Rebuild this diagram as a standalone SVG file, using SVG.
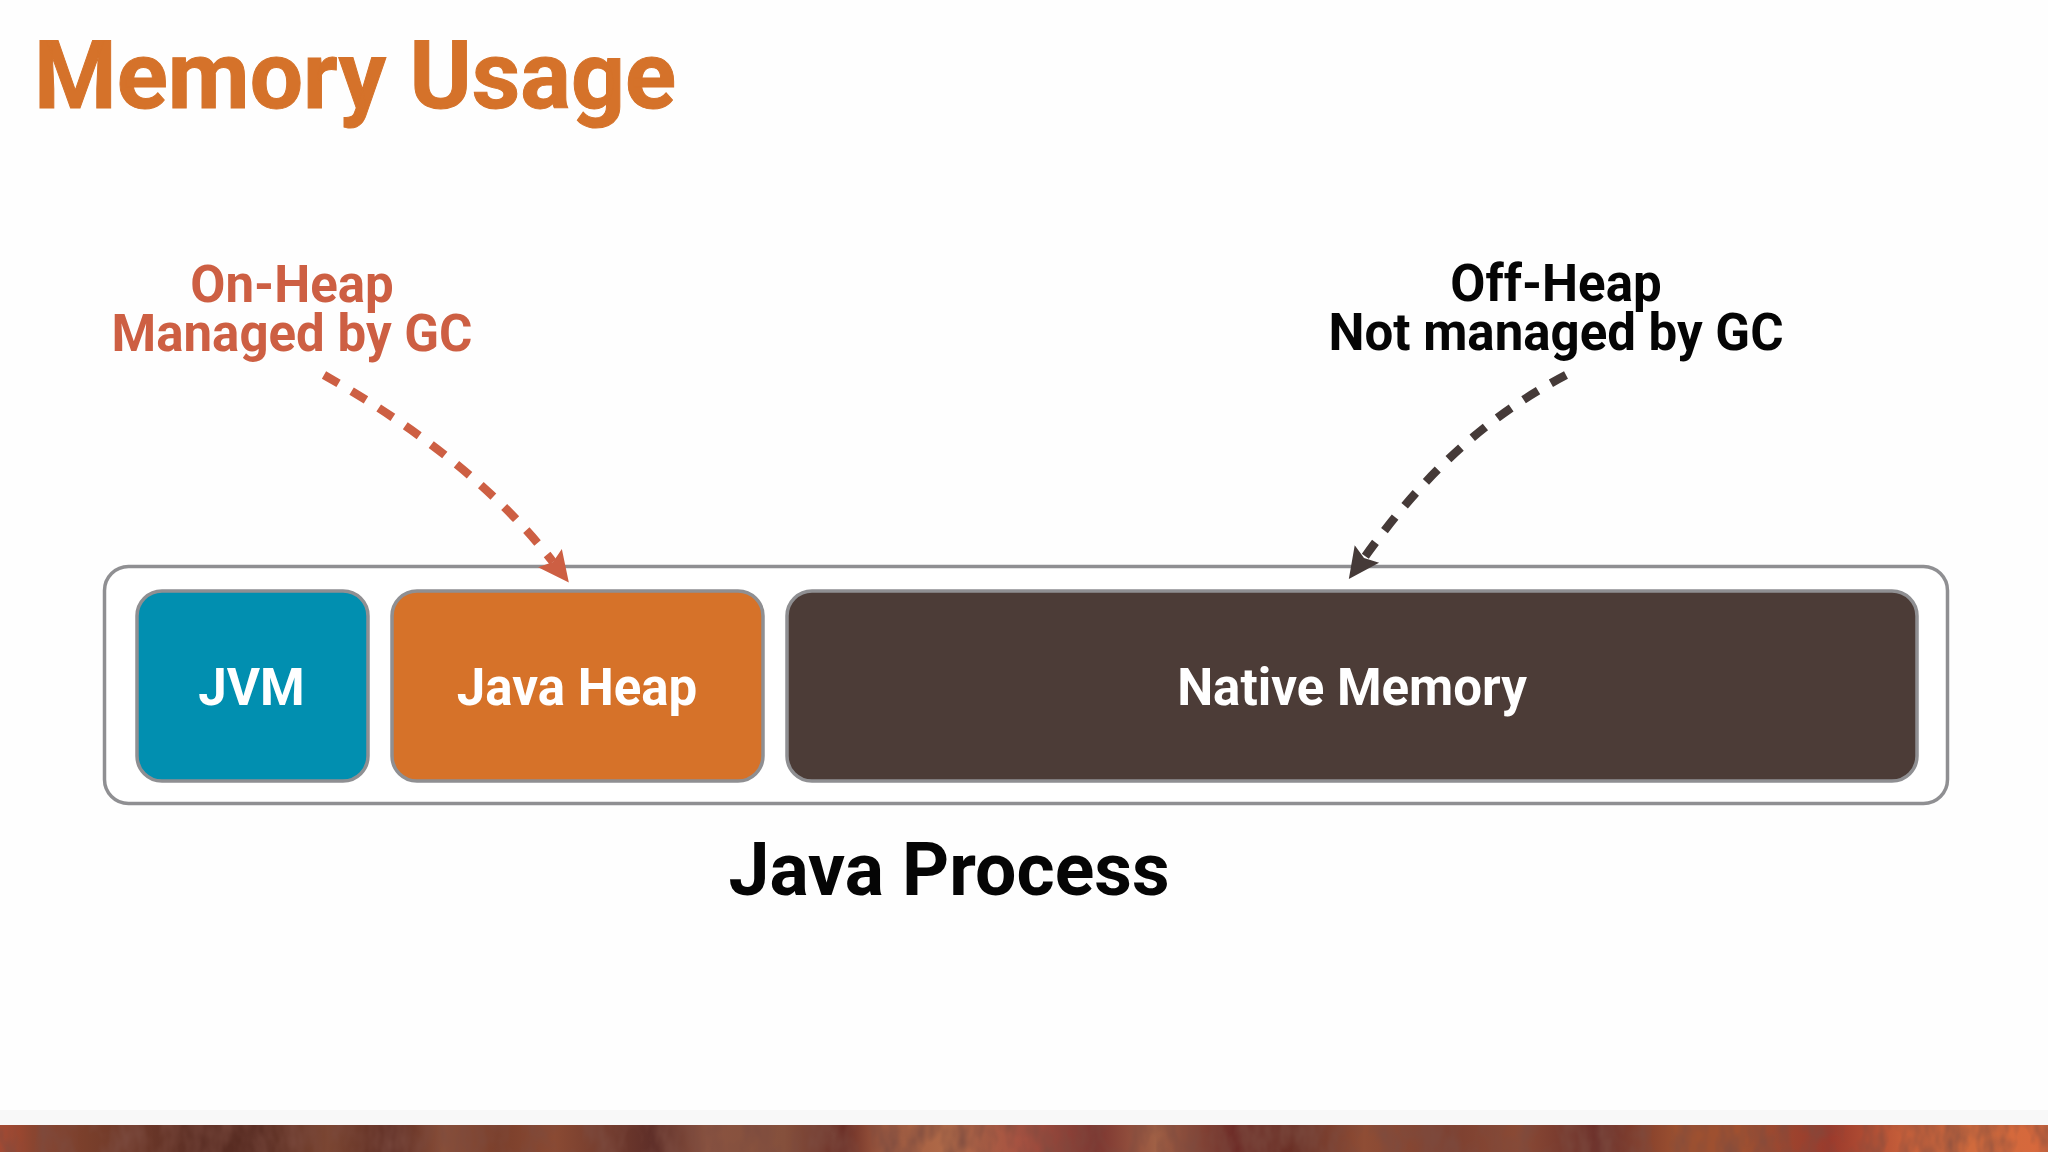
<svg xmlns="http://www.w3.org/2000/svg" width="2048" height="1152" viewBox="0 0 2048 1152">
<style>
text{font-family:Roboto,"Liberation Sans",sans-serif;font-weight:700;text-anchor:middle}
.box{stroke:#8f8f92;stroke-width:3.5}
.lbl{font-size:51px}
.in{font-size:51px;fill:#fff}
.dash{fill:none;stroke-width:8.5;stroke-dasharray:17 15}
</style>
<defs>
<linearGradient id="wood" x1="0" x2="1" y1="0" y2="0" gradientUnits="objectBoundingBox">
<stop offset="0" stop-color="#b0492f"/><stop offset=".016" stop-color="#8a4530"/><stop offset=".042" stop-color="#7a3f2b"/><stop offset=".096" stop-color="#5c2f25"/><stop offset=".127" stop-color="#55291f"/><stop offset=".16" stop-color="#7b4530"/><stop offset=".191" stop-color="#5c2b22"/><stop offset=".217" stop-color="#8a4f38"/><stop offset=".243" stop-color="#7b3f2b"/><stop offset=".271" stop-color="#8a4a33"/><stop offset=".319" stop-color="#5e2e28"/><stop offset=".345" stop-color="#8a5340"/><stop offset=".383" stop-color="#85503c"/><stop offset=".412" stop-color="#6b2e26"/><stop offset=".431" stop-color="#a05a3f"/><stop offset=".463" stop-color="#b06a48"/><stop offset=".5" stop-color="#a55040"/><stop offset=".535" stop-color="#7c3530"/><stop offset=".564" stop-color="#a06045"/><stop offset=".602" stop-color="#6e2d28"/><stop offset=".634" stop-color="#6a3025"/><stop offset=".666" stop-color="#8f4d35"/><stop offset=".708" stop-color="#7d4030"/><stop offset=".742" stop-color="#8a4a35"/><stop offset=".781" stop-color="#6a2d28"/><stop offset=".819" stop-color="#9c5030"/><stop offset=".851" stop-color="#a05030"/><stop offset=".893" stop-color="#9a3a2c"/><stop offset=".931" stop-color="#c8603a"/><stop offset=".962" stop-color="#d06a3c"/><stop offset="1" stop-color="#d8683c"/>
</linearGradient>
<filter id="grain" x="0" y="0" width="1" height="1">
<feTurbulence type="fractalNoise" baseFrequency="0.05 0.025" numOctaves="3" seed="7"/>
<feColorMatrix type="matrix" values="0 0 0 0 0.2  0 0 0 0 0.07  0 0 0 0 0.05  1.6 0 0 0 -0.55"/>
</filter>
<marker id="headRed" markerUnits="userSpaceOnUse" markerWidth="40" markerHeight="40" refX="5" refY="20" orient="auto"><path d="M0,5 L31,20 L0,35 L5,20 Z" fill="#cd5f43"/></marker>
<marker id="headDark" markerUnits="userSpaceOnUse" markerWidth="40" markerHeight="40" refX="5" refY="20" orient="auto"><path d="M0,5 L31,20 L0,35 L5,20 Z" fill="#453a38"/></marker>
</defs>
<rect id="background" width="2048" height="1152" fill="#fefefe"/>
<rect id="footer-band" y="1110" width="2048" height="15" fill="#f8f8f8"/>
<rect id="footer-strip" y="1125" width="2048" height="27" fill="url(#wood)"/>
<rect id="footer-grain" y="1125" width="2048" height="27" filter="url(#grain)"/>
<text id="title" x="355" y="108" font-size="94.500" fill="#d5722a" stroke="#d5722a" stroke-width="1">Memory Usage</text>
<g id="java-process"><rect class="box" x="104.500" y="566.500" width="1843" height="237" rx="24" fill="#fff"/><text x="949" y="895" font-size="73.300" fill="#050505">Java Process</text></g>
<g id="jvm"><rect class="box" x="137" y="591" width="231" height="190" rx="25" fill="#018fb0"/><text class="in" x="251.500" y="705">JVM</text></g>
<g id="java-heap"><rect class="box" x="392" y="591" width="371" height="190" rx="25" fill="#d67229"/><text class="in" x="577" y="705">Java Heap</text></g>
<g id="native-memory"><rect class="box" x="787" y="591" width="1130" height="190" rx="25" fill="#4c3c37"/><text class="in" x="1352" y="705">Native Memory</text></g>
<g id="on-heap"><text class="lbl" y="302" fill="#cd5f43"><tspan x="292">On-Heap</tspan><tspan x="292" y="351">Managed by GC</tspan></text></g>
<g id="off-heap"><text class="lbl" y="301" fill="#050505"><tspan x="1556">Off-Heap</tspan><tspan x="1556" y="350">Not managed by GC</tspan></text></g>
<g id="connectors">
<path class="dash" stroke="#cd5f43" marker-end="url(#headRed)" d="M324,375 C400,418 490,480 553,562"/>
<path class="dash" stroke="#453a38" marker-end="url(#headDark)" d="M1566,375 C1480,420 1420,480 1364,558"/>
</g>
</svg>
